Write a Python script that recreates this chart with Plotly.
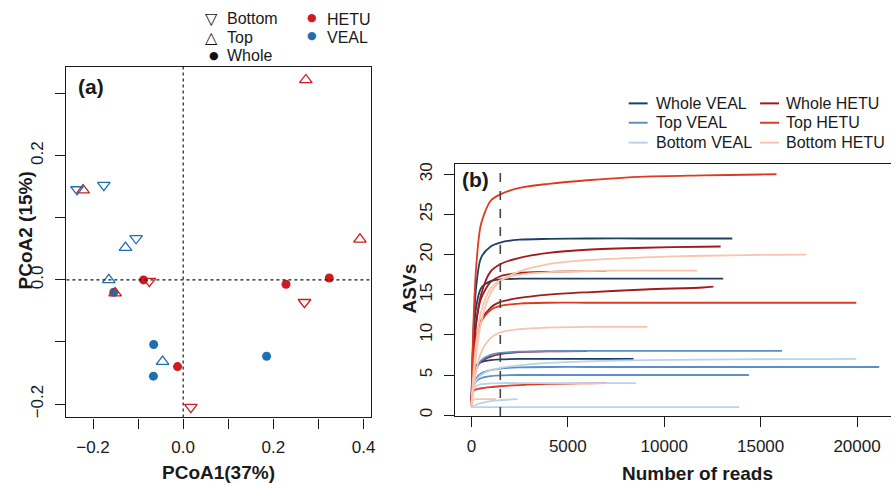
import plotly.graph_objects as go

W, H = 895, 485
FONT = "Liberation Sans, Arial, Helvetica, sans-serif"
INK = "#1a1a1a"

# ---------------- Panel (a): PCoA ordination ----------------
hetu_whole_x = [-0.088, 0.228, 0.324, -0.0125]
hetu_whole_y = [0.000, -0.007, 0.003, -0.1396]
hetu_top_x = [0.272, 0.392, -0.222, -0.151]
hetu_top_y = [0.322, 0.0653, 0.1445, -0.0214]
hetu_bottom_x = [-0.075, 0.269, 0.017]
hetu_bottom_y = [-0.002, -0.036, -0.205]
veal_whole_x = [-0.154, -0.0655, -0.066, 0.185]
veal_whole_y = [-0.020, -0.104, -0.155, -0.123]
veal_top_x = [-0.128, -0.165, -0.0457]
veal_top_y = [0.052, 0.000, -0.1316]
veal_bottom_x = [-0.2355, -0.176, -0.1044]
veal_bottom_y = [0.1456, 0.1525, 0.067]

A_XTICKS = [-0.2, -0.1, 0.0, 0.1, 0.2, 0.3, 0.4]
A_XTICKTEXT = ["\u22120.2", "", "0.0", "", "0.2", "", "0.4"]
A_YTICKS = [-0.2, -0.1, 0.0, 0.1, 0.2, 0.3]
A_YTICKTEXT = ["\u22120.2", "", "0.0", "", "0.2", ""]

RED = "#cf1b1f"
BLUE = "#1f6eb0"

# ---------------- Panel (b): rarefaction curves ----------------
READS_GRID = [0, 100, 250, 500, 1000, 1500, 2500, 4000, 6000, 9000, 12000, 15000, 18000, 21000]
B_XTICKS = [0, 5000, 10000, 15000, 20000]
B_YTICKS = [0, 5, 10, 15, 20, 25, 30]
DEPTH_CUTOFF = 1500

whole_veal_end = [13530, 13060, 8410]
whole_veal_asv = [
    [1, 10, 16, 19.6, 21.0, 21.5, 21.85, 21.95, 22, 22, 22, 22],
    [1, 9, 13.5, 15.8, 16.7, 16.9, 17, 17, 17, 17, 17, 17],
    [1, 5.2, 6.2, 6.6, 6.85, 6.95, 7, 7, 7, 7],
]
whole_hetu_end = [12925, 7000, 12550, 6000]
whole_hetu_asv = [
    [1, 7, 11.5, 15, 17.9, 18.8, 19.6, 20.2, 20.6, 20.85, 20.97, 21],
    [1, 7, 11.5, 14.5, 16.6, 17.3, 17.7, 17.85, 17.95, 17.97],
    [1, 6, 9.5, 11.8, 13.4, 14.1, 14.6, 15.0, 15.3, 15.65, 15.9, 16],
    [1, 4.5, 5.8, 6.7, 7.3, 7.6, 7.85, 7.95, 7.98],
]
top_veal_end = [16110, 21150, 14390]
top_veal_asv = [
    [1, 4.5, 5.8, 6.8, 7.5, 7.75, 7.9, 7.97, 8, 8, 8, 8, 8],
    [1, 3.8, 4.6, 5.2, 5.6, 5.8, 5.95, 6, 6, 6, 6, 6, 6, 6, 6],
    [1, 3.5, 4.2, 4.6, 4.85, 4.95, 5, 5, 5, 5, 5, 5],
]
top_hetu_end = [15820, 19960, 7000]
top_hetu_asv = [
    [1, 11, 18.5, 23.8, 26.7, 27.5, 28.3, 28.8, 29.25, 29.7, 29.85, 29.97, 30],
    [1, 6.5, 9.5, 11.6, 13.1, 13.6, 13.9, 14, 14, 14, 14, 14, 14, 14],
    [1, 3.0, 3.2, 3.35, 3.5, 3.6, 3.75, 3.9, 3.97, 4],
]
bottom_veal_end = [19960, 8550, 2400, 13890]
bottom_veal_asv = [
    [1, 3.5, 4.3, 5.0, 5.6, 5.9, 6.2, 6.5, 6.7, 6.85, 6.92, 6.96, 6.99, 7],
    [1, 3.2, 3.6, 3.85, 3.95, 4, 4, 4, 4, 4],
    [1, 1.1, 1.3, 1.5, 1.75, 1.88, 2],
    [1, 1, 1, 1, 1, 1, 1, 1, 1, 1, 1, 1],
]
bottom_hetu_end = [17370, 11720, 9130, 1270]
bottom_hetu_asv = [
    [1, 4, 7.5, 11.5, 15.2, 16.7, 17.9, 18.8, 19.3, 19.65, 19.85, 19.95, 20],
    [1, 5, 9, 12.8, 15.8, 16.8, 17.5, 17.8, 17.95, 18, 18],
    [1, 3, 5.5, 7.8, 9.6, 10.3, 10.7, 10.9, 11, 11, 11],
    [1, 1.9, 2, 2, 2, 2],
]

GROUPS = [
    ("Whole VEAL", whole_veal_end, whole_veal_asv, "#1d3f66"),
    ("Whole HETU", whole_hetu_end, whole_hetu_asv, "#a11b1b"),
    ("Top VEAL", top_veal_end, top_veal_asv, "#5b8fc9"),
    ("Top HETU", top_hetu_end, top_hetu_asv, "#de3a22"),
    ("Bottom VEAL", bottom_veal_end, bottom_veal_asv, "#b9d3ec"),
    ("Bottom HETU", bottom_hetu_end, bottom_hetu_asv, "#f7c4ae"),
]
COLORS = {name: col for name, _, _, col in GROUPS}


def px_x(p):
    return p / W


def px_y(p):
    return 1 - p / H


fig = go.Figure()

# Panel (a) traces
pcoa = [
    (hetu_whole_x, hetu_whole_y, "circle", RED),
    (veal_whole_x, veal_whole_y, "circle", BLUE),
    (hetu_top_x, hetu_top_y, "triangle-up-open", RED),
    (veal_top_x, veal_top_y, "triangle-up-open", BLUE),
    (hetu_bottom_x, hetu_bottom_y, "triangle-down-open", RED),
    (veal_bottom_x, veal_bottom_y, "triangle-down-open", BLUE),
]
for xs, ys, sym, col in pcoa:
    filled = sym == "circle"
    fig.add_trace(go.Scatter(
        x=xs, y=ys, mode="markers", xaxis="x", yaxis="y", showlegend=False,
        marker=dict(symbol=sym, size=9 if filled else 11, color=col,
                    line=dict(width=0 if filled else 1.3, color=col)),
    ))

# Panel (b) traces
for name, ends, curves, col in GROUPS:
    for end, asv in zip(ends, curves):
        reads = [g for g in READS_GRID if g < end] + [end]
        fig.add_trace(go.Scatter(
            x=reads, y=asv, mode="lines", xaxis="x2", yaxis="y2", name=name,
            showlegend=False, line=dict(color=col, width=1.8, shape="spline", smoothing=0.8),
        ))

# Reference lines
fig.add_shape(type="line", xref="x", yref="y domain", x0=0, x1=0, y0=0, y1=1,
              line=dict(color=INK, width=1.2, dash="dot"))
fig.add_shape(type="line", xref="x domain", yref="y", x0=0, x1=1, y0=0, y1=0,
              line=dict(color=INK, width=1.2, dash="dot"))
fig.add_shape(type="line", xref="x2", yref="y2 domain", x0=DEPTH_CUTOFF, x1=DEPTH_CUTOFF,
              y0=0, y1=1, line=dict(color="#444444", width=1.6, dash="dash"))

axis_common = dict(showgrid=False, zeroline=False, showline=True, linecolor=INK,
                   linewidth=1.3, ticks="outside", ticklen=10, tickwidth=1.2,
                   tickcolor=INK, tickfont=dict(family=FONT, size=17, color=INK))

annotations = []

def ann(text, x, y, size=16, bold=False, angle=0, xanchor="center", color=INK):
    annotations.append(dict(
        text=f"<b>{text}</b>" if bold else text, xref="paper", yref="paper",
        x=px_x(x), y=px_y(y), xanchor=xanchor, yanchor="middle", showarrow=False,
        textangle=angle, font=dict(family=FONT, size=size, color=color)))

# Titles and panel labels
ann("PCoA1(37%)", 219.7, 473, size=19, bold=True)
ann("PCoA2 (15%)", 26, 230, size=19, bold=True, angle=-90)
ann("Number of reads", 701, 474, size=19, bold=True)
ann("ASVs", 411, 288, size=19, bold=True, angle=-90)
ann("(a)", 91, 85.5, size=21, bold=True)
ann("(b)", 478, 178.5, size=21, bold=True)

# Legend (a)
SYM_FONT = "DejaVu Sans"
for sym, label, yy, sx in [("\u25bd", "Bottom", 17, 212.5), ("\u25b3", "Top", 35.5, 212.5),
                           ("\u25cf", "Whole", 54, 215)]:
    annotations.append(dict(text=sym, xref="paper", yref="paper", x=px_x(sx), y=px_y(yy),
                            xanchor="center", yanchor="middle", showarrow=False,
                            font=dict(family=SYM_FONT, size=16 if sym != "\u25cf" else 11, color="#111")))
    ann(label, 226.5, yy, size=16, xanchor="left")
for label, col, yy in [("HETU", RED, 17), ("VEAL", BLUE, 35)]:
    annotations.append(dict(text="\u25cf", xref="paper", yref="paper", x=px_x(313.5), y=px_y(yy - 1),
                            xanchor="center", yanchor="middle", showarrow=False,
                            font=dict(family=SYM_FONT, size=11, color=col)))
    ann(label, 326.5, yy + 1, size=16, xanchor="left")

# Legend (b)
leg_rows = [102, 121.5, 141.5]
cols = [(["Whole VEAL", "Top VEAL", "Bottom VEAL"], 631.5, 650.5, 657),
        (["Whole HETU", "Top HETU", "Bottom HETU"], 763.5, 782.5, 787.5)]
for names, lx0, lx1, tx in cols:
    for name, yy in zip(names, leg_rows):
        fig.add_shape(type="line", xref="paper", yref="paper", x0=px_x(lx0), x1=px_x(lx1),
                      y0=px_y(yy), y1=px_y(yy), line=dict(color=COLORS[name], width=2))
        ann(name, tx, yy, size=16, xanchor="left")

fig.update_layout(
    width=W, height=H, margin=dict(l=0, r=0, t=0, b=0),
    paper_bgcolor="white", plot_bgcolor="white",
    font=dict(family=FONT, color=INK),
    showlegend=False,
    xaxis=dict(domain=[px_x(66.7), px_x(372.7)], range=[-0.259, 0.4166],
               tickvals=A_XTICKS, ticktext=A_XTICKTEXT, mirror=True, anchor="y",
               ticklabelstandoff=4, **axis_common),
    yaxis=dict(domain=[px_y(418), px_y(65)], range=[-0.2215, 0.3435],
               tickvals=A_YTICKS, ticktext=A_YTICKTEXT, mirror=True, anchor="x",
               tickangle=-90, ticklabelstandoff=5, **axis_common),
    xaxis2=dict(domain=[px_x(457.3), 1.0], range=[-836, 21760], tickvals=B_XTICKS,
                tickformat="d", mirror=True, anchor="y2", ticklabelstandoff=4, **axis_common),
    yaxis2=dict(domain=[px_y(416.7), px_y(163.3)], range=[-0.12, 31.24], tickvals=B_YTICKS,
                anchor="x2", tickangle=-90, ticklabelstandoff=5, **axis_common),
    annotations=annotations,
)

fig.write_html("out.html", config={"displayModeBar": False},
               post_script="document.body.style.margin='0';document.body.style.overflow='hidden';")
